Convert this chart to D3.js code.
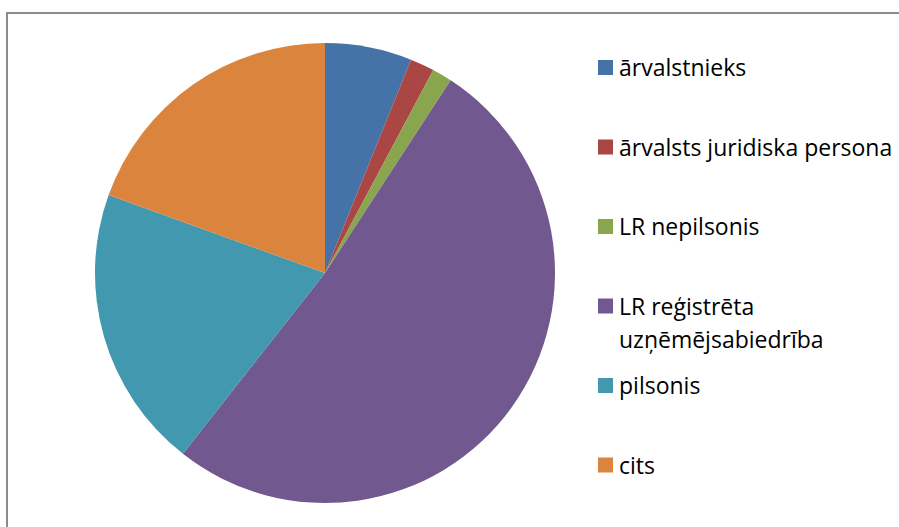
<!DOCTYPE html>
<html><head><meta charset="utf-8">
<script src="https://cdn.jsdelivr.net/npm/d3@7"></script>
<style>html,body{margin:0;padding:0;background:#fff;overflow:hidden}</style>
</head><body>
<svg id="c" width="899" height="527"></svg>
<script>
const categories = ["ārvalstnieks", "ārvalsts juridiska persona", "LR nepilsonis", "LR reģistrēta uzņēmējsabiedrība", "pilsonis", "cits"];
const values = [6.1, 1.7, 1.4, 51.4, 19.9, 19.5];
const colors = ["#4572A7", "#AA4643", "#89A54E", "#71588F", "#4198AF", "#DB843D"];
const legendLines = [["ārvalstnieks"], ["ārvalsts juridiska persona"], ["LR nepilsonis"], ["LR reģistrēta", "uzņēmējsabiedrība"], ["pilsonis"], ["cits"]];

const svg = d3.select("#c");
svg.append("rect").attr("x", 7).attr("y", 13).attr("width", 960).attr("height", 600)
  .attr("fill", "none").attr("stroke", "#8c8c8c").attr("stroke-width", 2);

const cx = 325, cy = 273, r = 230;
const pie = d3.pie().sort(null).value(d => d);
const arc = d3.arc().innerRadius(0).outerRadius(r);
const g = svg.append("g").attr("transform", `translate(${cx},${cy})`);
g.selectAll("path").data(pie(values)).join("path")
  .attr("d", arc).attr("fill", (d, i) => colors[i]);

const font = "'Open Sans', 'DejaVu Sans', sans-serif";
const y = d3.scalePoint().domain(d3.range(categories.length)).range([67.5, 465]);
const lg = svg.append("g");
categories.forEach((c, i) => {
  const yc = y(i);
  lg.append("rect").attr("x", 598).attr("y", yc - 7.5).attr("width", 15).attr("height", 15).attr("fill", colors[i]);
  const t = lg.append("text").attr("x", 619).attr("y", yc + 8.5)
    .attr("font-family", font).attr("font-size", 23).attr("fill", "#000");
  legendLines[i].forEach((ln, j) => {
    t.append("tspan").attr("x", 619).attr("dy", j === 0 ? 0 : 33).text(ln);
  });
});
</script>
</body></html>
